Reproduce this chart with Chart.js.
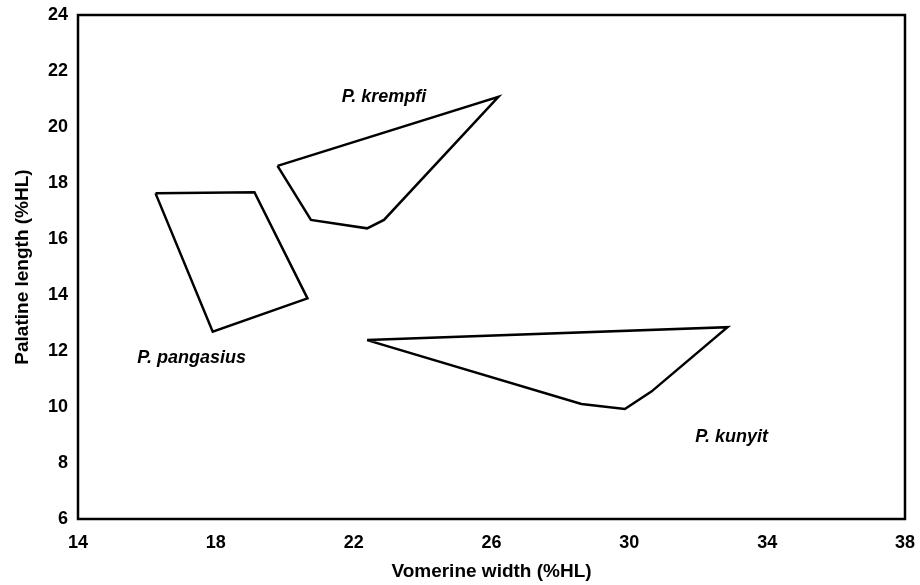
<!DOCTYPE html>
<html lang="en">
<head>
  <meta charset="UTF-8">
  <title>Vomerine width vs palatine length</title>
  <style>
    html, body { margin: 0; padding: 0; background: #fff; }
    #wrap { width: 920px; height: 585px; }
  </style>
</head>
<body>
  <div id="wrap"><canvas id="chart" width="920" height="585"></canvas></div>

  <script src="https://cdn.jsdelivr.net/npm/chart.js"></script>
  <script>
    // hull vertices of each species (vomerine width, palatine length)
    const pangasiusX = [16.25, 19.12, 20.66, 17.91];
    const pangasiusY = [17.63, 17.67, 13.88, 12.69];
    const krempfiX = [19.79, 26.2, 22.88, 22.39, 20.76];
    const krempfiY = [18.61, 21.08, 16.68, 16.38, 16.68];
    const kunyitX = [22.39, 32.85, 30.64, 29.87, 28.61];
    const kunyitY = [12.39, 12.85, 10.55, 9.93, 10.11];

    const speciesNames = ["P. pangasius", "P. krempfi", "P. kunyit"];
    // where each name sits, in axis units
    const nameX = [17.3, 22.88, 32.97];
    const nameY = [11.75, 21.07, 8.93];

    const xTicks = [14, 18, 22, 26, 30, 34, 38];
    const yTicks = [6, 8, 10, 12, 14, 16, 18, 20, 22, 24];

    const FONT = "'Liberation Sans', Arial, sans-serif";

    // closed outline: repeat the first vertex at the end
    function outline(xs, ys) {
      const pts = xs.map((x, i) => ({ x: x, y: ys[i] }));
      pts.push({ x: xs[0], y: ys[0] });
      return pts;
    }

    function hull(label, xs, ys) {
      return {
        label: label,
        data: outline(xs, ys),
        showLine: true,
        borderColor: "#000",
        borderWidth: 2.5,
        pointRadius: 0,
        tension: 0,
        fill: false,
      };
    }

    // frame round the plot and species names
    const decorations = {
      id: "decorations",
      afterDraw(chart) {
        const ctx = chart.ctx;
        const a = chart.chartArea;
        const xs = chart.scales.x, ys = chart.scales.y;
        ctx.save();
        ctx.strokeStyle = "#000";
        ctx.lineWidth = 2.5;
        ctx.strokeRect(a.left, a.top, a.right - a.left, a.bottom - a.top);

        ctx.fillStyle = "#000";
        ctx.font = "italic bold 18px " + FONT;
        ctx.textAlign = "center";
        ctx.textBaseline = "middle";
        speciesNames.forEach((name, i) => {
          ctx.fillText(name, xs.getPixelForValue(nameX[i]), ys.getPixelForValue(nameY[i]));
        });
        ctx.restore();
      }
    };

    new Chart(document.getElementById("chart"), {
      type: "scatter",
      data: {
        datasets: [
          hull(speciesNames[0], pangasiusX, pangasiusY),
          hull(speciesNames[1], krempfiX, krempfiY),
          hull(speciesNames[2], kunyitX, kunyitY),
        ],
      },
      options: {
        responsive: false,
        animation: false,
        layout: { padding: { top: 15, right: 12, left: 0, bottom: 0 } },
        plugins: {
          legend: { display: false },
          tooltip: { enabled: false },
        },
        scales: {
          x: {
            type: "linear",
            min: xTicks[0],
            max: xTicks[xTicks.length - 1],
            afterBuildTicks: s => { s.ticks = xTicks.map(v => ({ value: v })); },
            grid: { display: false },
            border: { display: false },
            ticks: {
              color: "#000",
              padding: 5,
              font: { family: FONT, size: 18, weight: "bold" },
            },
            title: {
              display: true,
              text: "Vomerine width (%HL)",
              color: "#000",
              padding: { top: 0, bottom: 2 },
              font: { family: FONT, size: 19, weight: "bold" },
            },
            afterFit: s => { s.height = 66; },
          },
          y: {
            type: "linear",
            min: yTicks[0],
            max: yTicks[yTicks.length - 1],
            afterBuildTicks: s => { s.ticks = yTicks.map(v => ({ value: v })); },
            grid: { display: false },
            border: { display: false },
            ticks: {
              color: "#000",
              padding: 2,
              font: { family: FONT, size: 18, weight: "bold" },
            },
            title: {
              display: true,
              text: "Palatine length (%HL)",
              color: "#000",
              padding: 11,
              font: { family: FONT, size: 19, weight: "bold" },
            },
            afterFit: s => { s.width = 78; },
          },
        },
      },
      plugins: [decorations],
    });
  </script>
</body>
</html>
